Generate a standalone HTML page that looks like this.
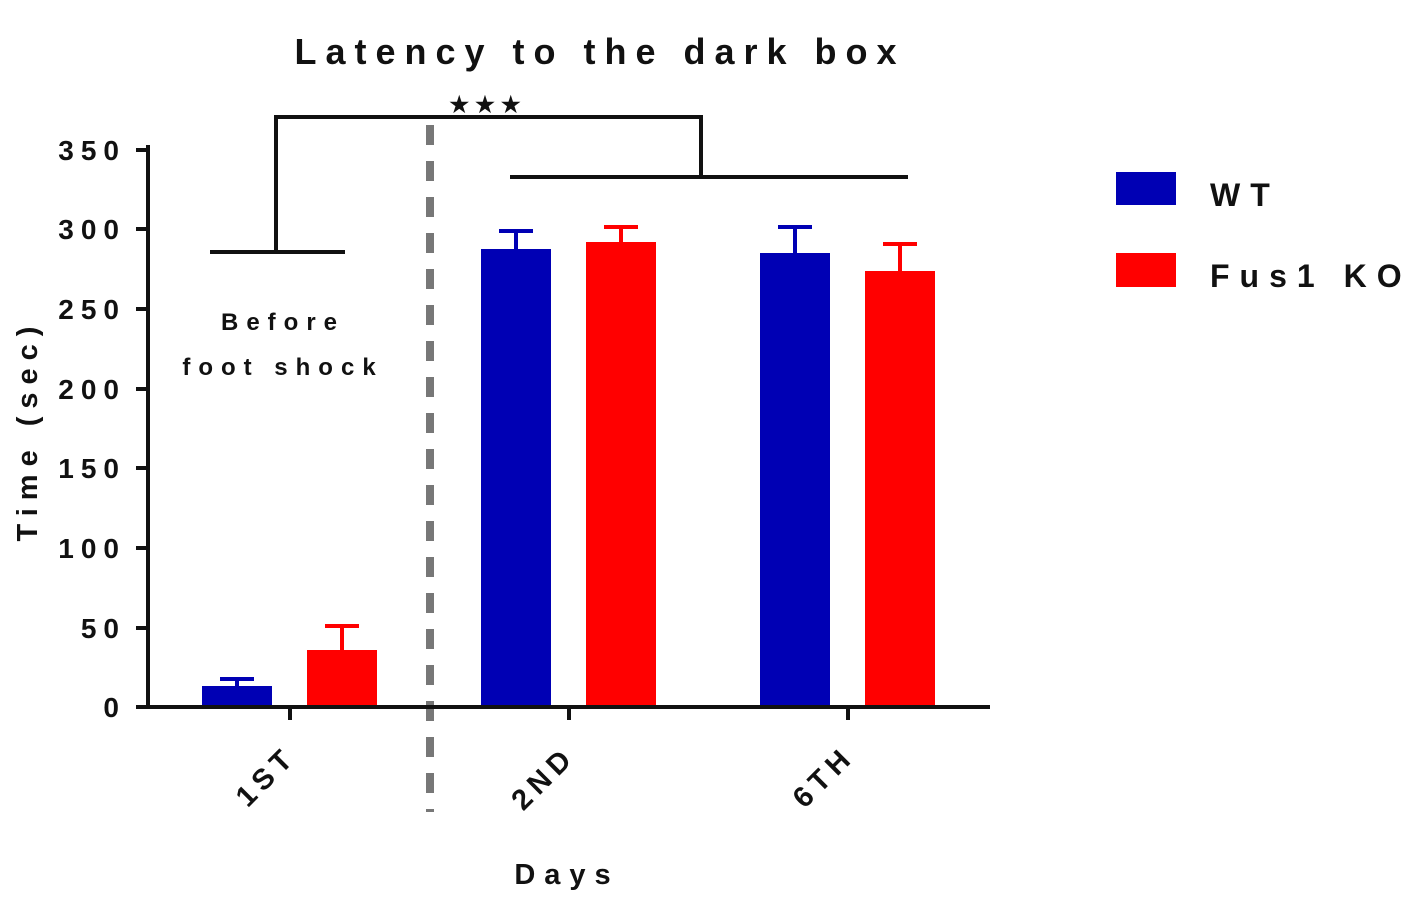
<!DOCTYPE html>
<html><head><meta charset="utf-8"><style>
html,body{margin:0;padding:0;background:#fff;}
text{font-family:"Liberation Sans",Arial,sans-serif;font-weight:bold;fill:#111;}
</style></head><body>
<svg width="1413" height="901" viewBox="0 0 1413 901" xmlns="http://www.w3.org/2000/svg">
<text x="600" y="64" font-size="36" text-anchor="middle" letter-spacing="9">Latency to the dark box</text>
<text x="488" y="112" font-size="22" text-anchor="middle" letter-spacing="6">★★★</text>
<g stroke="#111" stroke-width="4" fill="none">
<path d="M210 252H345M276 252V117H701V177M510 177H908"/>
</g>
<line x1="430" y1="125" x2="430" y2="812" stroke="#777" stroke-width="8" stroke-dasharray="20,16"/>
<g>
<rect x="202" y="686" width="70" height="21" fill="#0000b4"/>
<rect x="307" y="650" width="70" height="57" fill="#ff0000"/>
<rect x="481" y="249" width="70" height="458" fill="#0000b4"/>
<rect x="586" y="242" width="70" height="465" fill="#ff0000"/>
<rect x="760" y="253" width="70" height="454" fill="#0000b4"/>
<rect x="865" y="271" width="70" height="436" fill="#ff0000"/>
</g>
<g stroke-width="4" fill="none">
<path d="M237 686V679M220 679H254" stroke="#0000b4"/>
<path d="M342 650V626M325 626H359" stroke="#ff0000"/>
<path d="M516 249V231M499 231H533" stroke="#0000b4"/>
<path d="M621 242V227M604 227H638" stroke="#ff0000"/>
<path d="M795 253V227M778 227H812" stroke="#0000b4"/>
<path d="M900 271V244M883 244H917" stroke="#ff0000"/>
</g>
<g stroke="#111" stroke-width="4" fill="none">
<path d="M148 145V707H990"/>
<path d="M136 150H148M136 229H148M136 309H148M136 389H148M136 468H148M136 548H148M136 628H148M136 707H148"/>
<path d="M290 707V720M569 707V720M848 707V720"/>
</g>
<g font-size="28" text-anchor="end" letter-spacing="7">
<text x="126" y="160">350</text>
<text x="126" y="239">300</text>
<text x="126" y="319">250</text>
<text x="126" y="399">200</text>
<text x="126" y="478">150</text>
<text x="126" y="558">100</text>
<text x="126" y="638">50</text>
<text x="126" y="717">0</text>
</g>
<text transform="translate(37,430) rotate(-90)" font-size="29" text-anchor="middle" letter-spacing="8">Time (sec)</text>
<g font-size="29" text-anchor="end" letter-spacing="6">
<text transform="translate(298,758) rotate(-45)">1ST</text>
<text transform="translate(577,758) rotate(-45)">2ND</text>
<text transform="translate(856,758) rotate(-45)">6TH</text>
</g>
<text x="567" y="884" font-size="29" text-anchor="middle" letter-spacing="9">Days</text>
<text x="283" y="330" font-size="24" text-anchor="middle" letter-spacing="8">Before</text>
<text x="283" y="375" font-size="24" text-anchor="middle" letter-spacing="8">foot shock</text>
<rect x="1116" y="172" width="60" height="33" fill="#0000b4"/>
<rect x="1116" y="253" width="60" height="34" fill="#ff0000"/>
<text x="1210" y="206" font-size="32" letter-spacing="10">WT</text>
<text x="1210" y="287" font-size="32" letter-spacing="10">Fus1 KO</text>
</svg>
</body></html>
